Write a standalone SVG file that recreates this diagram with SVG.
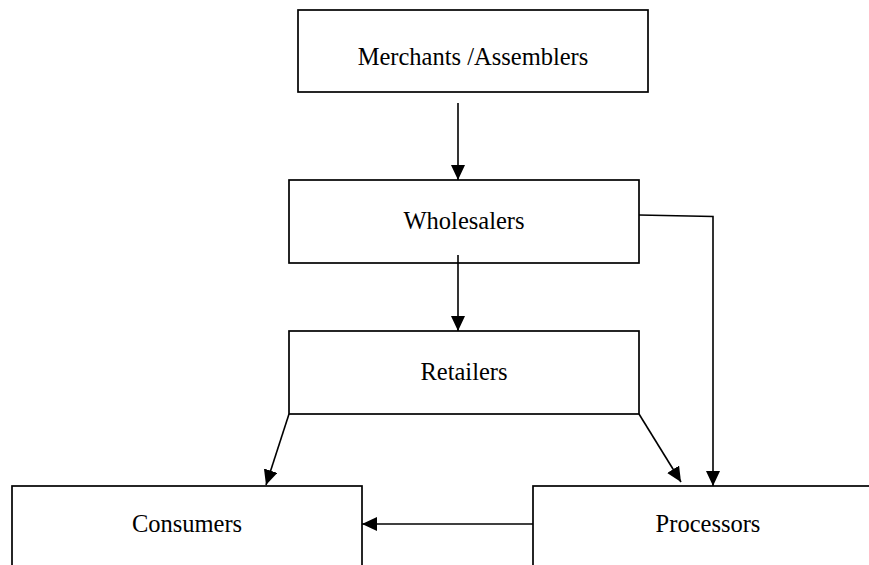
<svg xmlns="http://www.w3.org/2000/svg" width="869" height="565" viewBox="0 0 869 565">
<style>
.box{fill:#fff;stroke:#000;stroke-width:1.7}
.lbl{font-family:"Liberation Serif","Times New Roman",serif;font-size:24.5px;fill:#000;text-anchor:middle}
.con{fill:none;stroke:#000;stroke-width:1.6}
</style>
<defs>
<marker id="ah" markerUnits="userSpaceOnUse" markerWidth="17" markerHeight="15" refX="15" refY="7" orient="auto">
<path d="M0,0 L15,7 L0,14 Z" fill="#000"/>
</marker>
</defs>
<rect width="869" height="565" fill="#fff"/>
<g id="merchants"><rect class="box" x="298" y="10" width="350" height="82"/><text class="lbl" x="473" y="65">Merchants /Assemblers</text></g>
<g id="wholesalers"><rect class="box" x="289" y="180" width="350" height="83"/><text class="lbl" x="464" y="229">Wholesalers</text></g>
<g id="retailers"><rect class="box" x="289" y="331" width="350" height="83"/><text class="lbl" x="464" y="380">Retailers</text></g>
<g id="consumers"><rect class="box" x="12" y="486" width="350" height="90"/><text class="lbl" x="187" y="532">Consumers</text></g>
<g id="processors"><rect class="box" x="533" y="486" width="350" height="90"/><text class="lbl" x="708" y="532">Processors</text></g>
<g id="connectors">
<line class="con" x1="458" y1="103" x2="458" y2="180" marker-end="url(#ah)"/>
<line class="con" x1="458" y1="255" x2="458" y2="331" marker-end="url(#ah)"/>
<polyline class="con" points="639,215 713,216.5 713,486" marker-end="url(#ah)"/>
<line class="con" x1="289" y1="414" x2="266" y2="485" marker-end="url(#ah)"/>
<line class="con" x1="639" y1="414" x2="681" y2="482" marker-end="url(#ah)"/>
<line class="con" x1="533" y1="524" x2="362" y2="524" marker-end="url(#ah)"/>
</g>
</svg>
